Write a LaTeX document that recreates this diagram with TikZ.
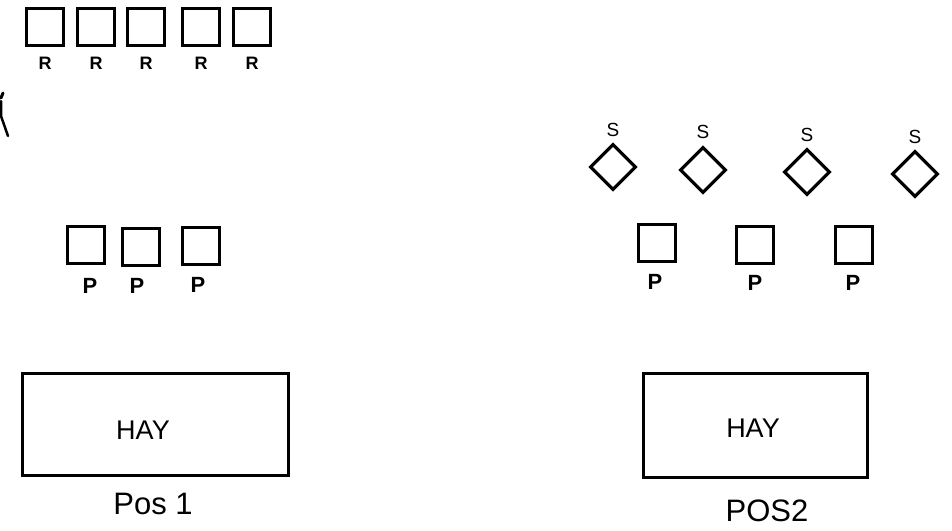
\documentclass[tikz,border=0pt]{standalone}
\usepackage{fontspec}
\setmainfont{Liberation Sans}
\usetikzlibrary{shapes.geometric}
\begin{document}
\begin{tikzpicture}[x=1pt,y=-1pt,
  sq/.style={draw,line width=3.2pt,minimum width=37pt,minimum height=37pt,inner sep=0pt},
  dia/.style={draw,line width=3.2pt,diamond,minimum width=46pt,minimum height=46pt,inner sep=0pt},
  hay/.style={draw,line width=3pt,inner sep=0pt},
  lblR/.style={font=\fontsize{18}{18}\selectfont\bfseries,inner sep=0pt},
  lblP/.style={font=\fontsize{22}{22}\selectfont\bfseries,inner sep=0pt},
  lblS/.style={font=\fontsize{19}{19}\selectfont,inner sep=0pt},
  big/.style={font=\fontsize{27}{27}\selectfont,inner sep=0pt},
  poslabel/.style={font=\fontsize{31}{31}\selectfont,inner sep=0pt}]
\useasboundingbox (0,0) rectangle (952,530);
\fill[white] (0,0) rectangle (952,530);
% top row R
\foreach \i/\x in {1/45,2/96,3/146,4/201,5/252}{
  \node[sq] (r\i) at (\x,27) {};
  \node[lblR] (rl\i) at (\x,63) {R};
}
% stray mark at left edge
\draw[line width=3pt,line cap=round] (3,93) -- (1,98);
\draw[line width=2.5pt,line cap=round] (1,101) -- (1,116) -- (8,136);
% left P row
\foreach \i/\x/\y in {1/86/245,2/141/247,3/201/246}{
  \node[sq] (pl\i) at (\x,\y) {};
}
\node[lblP] (plt1) at (90,286) {P};
\node[lblP] (plt2) at (137,286) {P};
\node[lblP] (plt3) at (198,285) {P};
% right diamonds S
\foreach \i/\x/\y/\ly in {1/613/167/130,2/703/170/132,3/807/172/135,4/915/174/137}{
  \node[dia] (s\i) at (\x,\y) {};
  \node[lblS] (sl\i) at (\x,\ly) {S};
}
% right P row
\foreach \i/\x/\y in {1/657/243,2/755/245,3/854/245}{
  \node[sq] (pr\i) at (\x,\y) {};
}
\node[lblP] (prt1) at (655,282) {P};
\node[lblP] (prt2) at (755,283) {P};
\node[lblP] (prt3) at (853,283) {P};
% hay boxes
\node[hay,minimum width=266pt,minimum height=102pt] (h1) at (155,424) {};
\node[big] (ht1) at (143,430) {HAY};
\node[poslabel] (p1) at (153,504) {Pos 1};
\node[hay,minimum width=224pt,minimum height=104pt] (h2) at (755,425) {};
\node[big] (ht2) at (753,428) {HAY};
\node[poslabel] (p2) at (767,511) {POS2};
\end{tikzpicture}
\end{document}
